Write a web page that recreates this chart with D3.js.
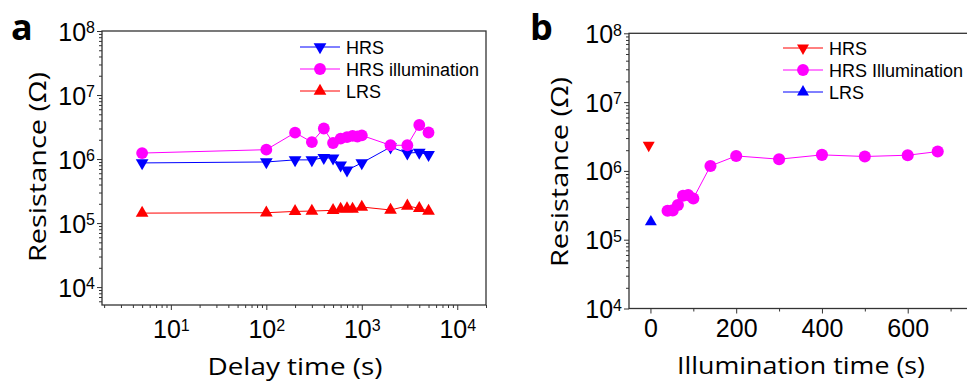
<!DOCTYPE html>
<html>
<head>
<meta charset="utf-8">
<script src="https://cdn.jsdelivr.net/npm/d3@7"></script>
<style>
  body { margin: 0; background: #fff; }
  svg { display: block; }
  .tick text { font-family: "Liberation Sans", Arial, sans-serif; font-size: 25px; fill: #000; }
  .axis path, .axis line { stroke: #333; }
  .title { font-family: "Open Sans", sans-serif; font-size: 24px; fill: #000; }
  .legend text { font-family: "Liberation Sans", Arial, sans-serif; font-size: 18px; fill: #000; }
  .panel-letter { font-family: "Open Sans", sans-serif; font-weight: 700; font-size: 36px; }
</style>
</head>
<body>
<div id="chart"></div>
<script>
// panel a: delay time (s)
var delayHRS = [5, 100, 200, 300, 400, 500, 600, 700, 1000, 2000, 3000, 4000, 5000];
var resHRS = [0.87e6, 0.9e6, 0.97e6, 0.97e6, 1.05e6, 1.03e6, 0.8e6, 0.67e6, 0.87e6, 1.54e6, 1.24e6, 1.27e6, 1.17e6];

var delayIllum = [5, 100, 200, 300, 400, 500, 600, 700, 800, 900, 1000, 2000, 3000, 4000, 5000];
var resIllum = [1.24e6, 1.4e6, 2.58e6, 1.84e6, 3.0e6, 1.78e6, 2.08e6, 2.2e6, 2.3e6, 2.25e6, 2.34e6, 1.64e6, 1.64e6, 3.4e6, 2.6e6];

var delayLRS = [5, 100, 200, 300, 500, 600, 700, 800, 1000, 2000, 3000, 4000, 5000];
var resLRS = [1.43e5, 1.45e5, 1.52e5, 1.54e5, 1.58e5, 1.66e5, 1.68e5, 1.66e5, 1.78e5, 1.6e5, 1.85e5, 1.7e5, 1.54e5];

// panel b: illumination time (s)
var illumTime = [40, 52, 64, 76, 88, 100, 140, 200, 300, 400, 500, 600, 670];
var illumRes = [2.63e5, 2.67e5, 3.2e5, 4.35e5, 4.45e5, 3.98e5, 1.18e6, 1.65e6, 1.48e6, 1.71e6, 1.62e6, 1.69e6, 1.91e6];
var bHRSTime = [-4], bHRSRes = [2.36e6];
var bLRSTime = [1], bLRSRes = [1.82e5];

var yMajor = [1e4, 1e5, 1e6, 1e7, 1e8];
var xMajorA = [10, 100, 1000, 10000];
var xMajorB = [0, 200, 400, 600];
var xMinorB = [100, 300, 500, 700];

var svg = d3.select('#chart').append('svg').attr('width', 967).attr('height', 382);

function logMinors(lo, hi) {
	var out = [];
	for (var e = Math.floor(Math.log10(lo)); e <= Math.ceil(Math.log10(hi)); e++) {
		for (var k = 2; k <= 9; k++) {
			var v = k * Math.pow(10, e);
			if (v >= lo && v <= hi) out.push(v);
		}
	}
	return out;
}

function supLabels(sel) {
	sel.selectAll('.tick text').each(function(d) {
		var t = d3.select(this).text(null);
		t.append('tspan').text('10');
		t.append('tspan').attr('dy', '-0.45em').style('font-size', '16px').text(Math.round(Math.log10(d)));
	});
}

function symbolFor(type, size) {
	return d3.symbol(type == 'circle' ? d3.symbolCircle : d3.symbolTriangle, size);
}

function drawSeries(g, x, y, xs, ys, color, type, size, line) {
	var pts = xs.map((d, i) => [d, ys[i]]);
	if (line) {
		g.append('path').datum(pts)
			.attr('fill', 'none').attr('stroke', color).attr('stroke-width', 1)
			.attr('d', d3.line().x(d => x(d[0])).y(d => y(d[1])));
	}
	g.selectAll(null).data(pts).enter()
		.append('path')
		.attr('d', symbolFor(type, size))
		.attr('fill', color)
		.attr('transform', d => 'translate(' + x(d[0]) + ',' + y(d[1]) + ')' + (type == 'down' ? ' rotate(180)' : ''));
}

function drawLegend(g, x0, rows) {
	var lg = g.append('g').attr('class', 'legend');
	rows.forEach(function(r) {
		lg.append('line').attr('x1', x0).attr('x2', x0 + 40).attr('y1', r.y).attr('y2', r.y)
			.attr('stroke', r.color).attr('stroke-width', 1);
		lg.append('path').attr('d', symbolFor(r.type, r.size)())
			.attr('fill', r.color)
			.attr('transform', 'translate(' + (x0 + 20) + ',' + r.y + ')' + (r.type == 'down' ? ' rotate(180)' : ''));
		lg.append('text').attr('x', x0 + 46).attr('y', r.y + 6.5).text(r.label);
	});
}

// ---- panel a ----
var xA = d3.scaleLog().domain([1.9, 2e4]).range([102, 486]);
var yA = d3.scaleLog().domain([5250, 1e8]).range([305, 31]);

svg.append('rect').attr('x', 102).attr('y', 31).attr('width', 384).attr('height', 274)
	.attr('fill', 'none').attr('stroke', '#333').attr('stroke-width', 1.3);

svg.append('g').attr('class', 'axis').attr('transform', 'translate(102,0)')
	.call(d3.axisLeft(yA).tickValues(logMinors(5250, 1e8)).tickSize(3).tickFormat('').tickSizeOuter(0));
var yAxA = svg.append('g').attr('class', 'axis').attr('transform', 'translate(102,0)')
	.call(d3.axisLeft(yA).tickValues(yMajor).tickSize(5).tickPadding(2).tickSizeOuter(0));
yAxA.selectAll('.tick text').attr('dy', '0.36em');
supLabels(yAxA);

svg.append('g').attr('class', 'axis').attr('transform', 'translate(0,305)')
	.call(d3.axisBottom(xA).tickValues(logMinors(1.9, 2e4)).tickSize(3).tickFormat('').tickSizeOuter(0));
var xAxA = svg.append('g').attr('class', 'axis').attr('transform', 'translate(0,305)')
	.call(d3.axisBottom(xA).tickValues(xMajorA).tickSize(5).tickPadding(10).tickSizeOuter(0));
supLabels(xAxA);
svg.selectAll('.axis .domain').remove();

var gA = svg.append('g');
drawSeries(gA, xA, yA, delayLRS, resLRS, '#ff0000', 'up', 70, true);
drawSeries(gA, xA, yA, delayHRS, resHRS, '#0000ff', 'down', 70, true);
drawSeries(gA, xA, yA, delayIllum, resIllum, '#ff00ff', 'circle', 110, true);

drawLegend(svg, 300, [
	{label: 'HRS', color: '#0000ff', type: 'down', size: 70, y: 47},
	{label: 'HRS illumination', color: '#ff00ff', type: 'circle', size: 110, y: 69},
	{label: 'LRS', color: '#ff0000', type: 'up', size: 70, y: 91}
]);

svg.append('text').attr('class', 'title').attr('x', 295).attr('y', 375).attr('text-anchor', 'middle')
	.attr('textLength', 175).attr('lengthAdjust', 'spacingAndGlyphs').text('Delay time (s)');
svg.append('text').attr('class', 'title').attr('text-anchor', 'middle')
	.attr('transform', 'translate(46,167) rotate(-90)')
	.attr('textLength', 190).attr('lengthAdjust', 'spacingAndGlyphs').text('Resistance (Ω)');
svg.append('text').attr('class', 'panel-letter').attr('x', 11).attr('y', 40).text('a');

// ---- panel b ----
var xB = d3.scaleLinear().domain([-50, 770]).range([629, 980.6]);
var yB = d3.scaleLog().domain([1e4, 1e8]).range([308.5, 33.3]);

svg.append('rect').attr('x', 629).attr('y', 33.3).attr('width', 352).attr('height', 275.2)
	.attr('fill', 'none').attr('stroke', '#333').attr('stroke-width', 1.3);

svg.append('g').attr('class', 'axis').attr('transform', 'translate(629,0)')
	.call(d3.axisLeft(yB).tickValues(logMinors(1e4, 1e8)).tickSize(3).tickFormat('').tickSizeOuter(0));
var yAxB = svg.append('g').attr('class', 'axis').attr('transform', 'translate(629,0)')
	.call(d3.axisLeft(yB).tickValues(yMajor).tickSize(5).tickPadding(2).tickSizeOuter(0));
yAxB.selectAll('.tick text').attr('dy', '0.36em');
supLabels(yAxB);

svg.append('g').attr('class', 'axis').attr('transform', 'translate(0,308.5)')
	.call(d3.axisBottom(xB).tickValues(xMinorB).tickSize(3).tickFormat('').tickSizeOuter(0));
svg.append('g').attr('class', 'axis').attr('transform', 'translate(0,308.5)')
	.call(d3.axisBottom(xB).tickValues(xMajorB).tickSize(5).tickPadding(6).tickSizeOuter(0));
svg.selectAll('.axis .domain').remove();

var gB = svg.append('g');
drawSeries(gB, xB, yB, illumTime, illumRes, '#ff00ff', 'circle', 115, true);
drawSeries(gB, xB, yB, bHRSTime, bHRSRes, '#ff0000', 'down', 62, false);
drawSeries(gB, xB, yB, bLRSTime, bLRSRes, '#0000ff', 'up', 62, false);

drawLegend(svg, 783, [
	{label: 'HRS', color: '#ff0000', type: 'down', size: 62, y: 48},
	{label: 'HRS Illumination', color: '#ff00ff', type: 'circle', size: 110, y: 70},
	{label: 'LRS', color: '#0000ff', type: 'up', size: 62, y: 92}
]);

svg.append('text').attr('class', 'title').attr('x', 801).attr('y', 374).attr('text-anchor', 'middle')
	.attr('textLength', 248).attr('lengthAdjust', 'spacingAndGlyphs').text('Illumination time (s)');
svg.append('text').attr('class', 'title').attr('text-anchor', 'middle')
	.attr('transform', 'translate(568,172) rotate(-90)')
	.attr('textLength', 190).attr('lengthAdjust', 'spacingAndGlyphs').text('Resistance (Ω)');
svg.append('text').attr('class', 'panel-letter').attr('x', 530).attr('y', 40).text('b');
</script>
</body>
</html>
